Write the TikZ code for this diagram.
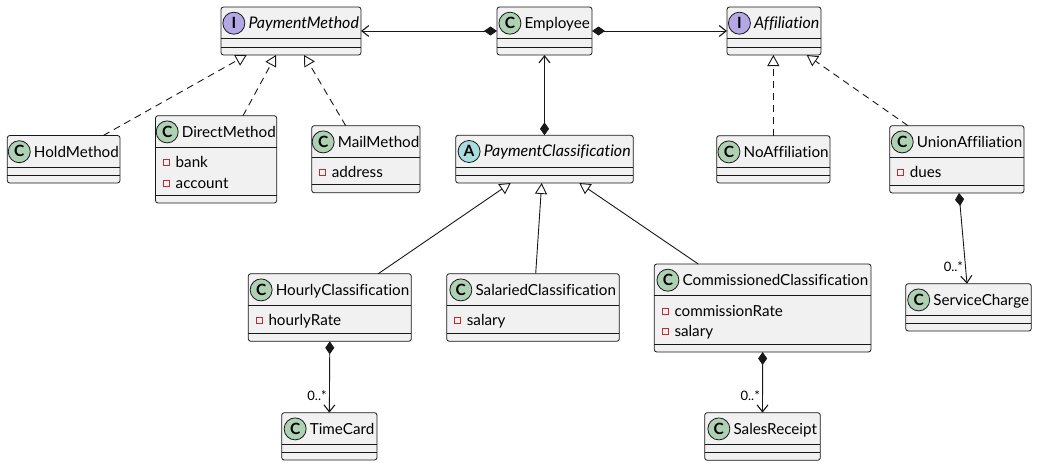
\documentclass[tikz,border=0pt]{standalone}
\usepackage{fontspec}
\setmainfont{Lato}[Ligatures=CommonOff]
\usetikzlibrary{arrows.meta,calc}
\definecolor{bordc}{HTML}{181818}
\definecolor{boxf}{HTML}{F1F1F1}
\definecolor{cC}{HTML}{ADD1B2}
\definecolor{cI}{HTML}{B4A7E5}
\definecolor{cA}{HTML}{A9DCDF}
\definecolor{attrred}{HTML}{C82930}
\newcommand\itl{\itshape\fontsize{16}{18}\selectfont}
\tikzset{
  cbox/.style={draw=bordc, fill=boxf, line width=0.8pt, rounded corners=2.5pt, inner sep=0pt, outer sep=0pt},
  sepl/.style={draw=bordc, line width=0.8pt},
  circ/.style={circle, draw=bordc, line width=0.8pt, minimum size=22pt, inner sep=0pt, text height=10.5pt, text depth=0pt, font=\bfseries\fontsize{15.5}{15.5}\selectfont},
  ttl/.style={inner sep=0pt, font=\fontsize{15.2}{17}\selectfont, text=black},
  attrt/.style={inner sep=0pt, font=\fontsize{15.2}{17}\selectfont, text=black},
  sq/.style={draw=attrred, line width=0.8pt, minimum size=6pt, inner sep=0pt},
  link/.style={draw=bordc, line width=0.9pt},
  comp/.style={link, {Diamond[length=13pt,width=9pt]}-{Straight Barb[length=7pt,width=11pt,line width=1.1pt]}},
  real/.style={link, dash pattern=on 7pt off 5pt, -{Triangle[open,length=11pt,width=12pt]}},
  gen/.style={link, -{Triangle[open,length=11pt,width=12pt]}},
  mult/.style={font=\fontsize{13}{13}\selectfont, inner sep=0pt, anchor=south east}
}
% #1 name, #2 x1, #3 y1, #4 x2, #5 y2, #6 letter, #7 circle colour, #8 title
\newcommand\umlcls[8]{%
  \node[cbox, anchor=north west, minimum width={(#4-#2)*1pt}, minimum height={(#5-#3)*1pt}] (#1) at (#2,-#3) {};
  \draw[sepl] ($(#1.north west)+(0,-31.7)$) -- ($(#1.north east)+(0,-31.7)$);
  \draw[sepl] ($(#1.south west)+(0,8)$) -- ($(#1.south east)+(0,8)$);
  \node[ttl, anchor=base] (#1-t) at ($(#1.north)+(12.75,-21.5)$) {#8};
  \node[circ, fill=#7] (#1-c) at ($(#1-t.base west)+(-14.5,5.3)$) {#6};
}
% #1 class name, #2 index, #3 text
\newcommand\umlattr[3]{%
  \node[sq] (#1-s#2) at ($(#1.north west)+(11,{-47-20.4*#2})$) {};
  \node[attrt, anchor=base west] (#1-a#2) at ($(#1.north west)+(20,{-52-20.4*#2})$) {#3};
}
\begin{document}
\begin{tikzpicture}[x=1pt,y=1pt]
\useasboundingbox (0,0) rectangle (1037,-466);
\fill[white] (0,0) rectangle (1037,-466);

\umlcls{pm}{221}{7}{361}{55}{I}{cI}{\itl PaymentMethod}
\umlcls{emp}{497}{7}{592}{55}{C}{cC}{Employee}
\umlcls{aff}{727}{7}{821}{55}{I}{cI}{\itl Affiliation}
\umlcls{hm}{7.3}{135.5}{120}{183}{C}{cC}{HoldMethod}
\umlcls{dm}{155.5}{115.7}{276.7}{203}{C}{cC}{DirectMethod}
\umlattr{dm}{0}{bank}
\umlattr{dm}{1}{account}
\umlcls{mm}{311.7}{125.7}{420}{192.7}{C}{cC}{MailMethod}
\umlattr{mm}{0}{address}
\umlcls{pc}{455.7}{135.3}{633.3}{183}{A}{cA}{\itl PaymentClassification}
\umlcls{na}{716.7}{135.7}{830}{183}{C}{cC}{NoAffiliation}
\umlcls{ua}{889.7}{125.7}{1024}{193}{C}{cC}{UnionAffiliation}
\umlattr{ua}{0}{dues}
\umlcls{hc}{248.3}{273.7}{411.3}{341.3}{C}{cC}{HourlyClassification}
\umlattr{hc}{0}{hourlyRate}
\umlcls{sc}{446.7}{273.7}{619.3}{341.3}{C}{cC}{SalariedClassification}
\umlattr{sc}{0}{salary}
\umlcls{cc}{654.3}{264}{871}{352}{C}{cC}{CommissionedClassification}
\umlattr{cc}{0}{commissionRate}
\umlattr{cc}{1}{salary}
\umlcls{svc}{905.7}{283.7}{1031.3}{331}{C}{cC}{ServiceCharge}
\umlcls{sr}{704.7}{412.7}{820.3}{460.3}{C}{cC}{SalesReceipt}
\umlcls{tc}{281.7}{412.7}{377}{460}{C}{cC}{TimeCard}

% compositions from Employee
\draw[comp] (emp.west) -- (pm.east);
\draw[comp] (emp.east) -- (aff.west);
\draw[comp] (pc.north) -- (emp.south);

% realizations of PaymentMethod
\draw[real] ($(hm.north west)+(96,0)$) -- ($(pm.south west)+(25.7,0)$);
\draw[real] ($(dm.north west)+(87.5,0)$) -- ($(pm.south west)+(55,0)$);
\draw[real] ($(mm.north west)+(34,0)$) -- ($(pm.south west)+(83,0)$);

% realizations of Affiliation
\draw[real] (na.north) -- (na.north |- aff.south);
\draw[real] ($(ua.north west)+(18.3,0)$) -- ($(aff.south west)+(79.7,0)$);

% generalizations of PaymentClassification
\draw[gen] ($(hc.north west)+(130,0)$) -- ($(pc.south west)+(55,0)$);
\draw[gen] ($(sc.north west)+(89,0)$) -- ($(pc.south west)+(86,0)$);
\draw[gen] ($(cc.north west)+(44,0)$) -- ($(pc.south west)+(123.6,0)$);

% compositions with multiplicity
\draw[comp] (hc.south) -- (tc.north);
\node[mult] (m1) at ($(tc.north)+(-2.5,12)$) {0..*};
\draw[comp] (cc.south) -- (sr.north);
\node[mult] (m2) at ($(sr.north)+(-2.5,12)$) {0..*};
\draw[comp] ($(ua.south west)+(69.3,0)$) -- ($(svc.north west)+(61.3,0)$);
\node[mult] (m3) at ($(svc.north west)+(57.5,12)$) {0..*};
\end{tikzpicture}
\end{document}
